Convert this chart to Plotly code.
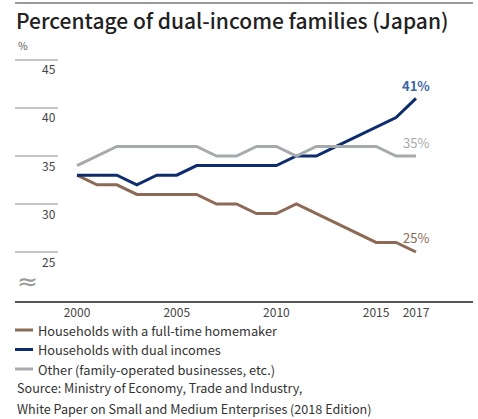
import plotly.graph_objects as go

# ---- data ----
years = list(range(2000, 2018))
homemaker = [33, 32, 32, 31, 31, 31, 31, 30, 30, 29, 29, 30, 29, 28, 27, 26, 26, 25]
dual = [33, 33, 33, 32, 33, 33, 34, 34, 34, 34, 34, 35, 35, 36, 37, 38, 39, 41]
other = [34, 35, 36, 36, 36, 36, 36, 35, 35, 36, 36, 35, 36, 36, 36, 36, 35, 35]
series_names = ["Households with a full-time homemaker",
                "Households with dual incomes",
                "Other (family-operated businesses, etc.)"]
end_labels = ["25%", "41%", "35%"]
x_ticks = [2000, 2005, 2010, 2015, 2017]
y_ticks = [25, 30, 35, 40, 45]
title_text = "Percentage of dual-income families (Japan)"
source_lines = ["Source: Ministry of Economy, Trade and Industry,",
                "White Paper on Small and Medium Enterprises (2018 Edition)"]

# ---- style ----
W, H = 478, 419
ML, MR, MT, MB = 15, 5, 55, 118
PW, PH = W - ML - MR, H - MT - MB
colors = ["#8c6a55", "#0e2d6e", "#a7aaad"]
label_colors = ["#8c6a55", "#3d67a6", "#a7aaad"]
FONT = "Noto Sans CJK JP"


def px_x(p):
    return (p - ML) / PW


def px_y(p):
    return (H - MB - p) / PH


fig = go.Figure()
for vals, name, col in zip([homemaker, dual, other], series_names, colors):
    fig.add_trace(go.Scatter(x=years, y=vals, name=name, mode="lines",
                             line=dict(color=col, width=3), showlegend=False,
                             hoverinfo="x+y+name"))

shapes = []
annotations = []

# top rule
shapes.append(dict(type="line", xref="paper", yref="paper", x0=0, x1=1,
                   y0=px_y(3), y1=px_y(3), line=dict(color="#7a7a7a", width=1.5)))

# short gridlines + labels below them
for t in y_ticks:
    shapes.append(dict(type="line", xref="paper", yref="y", x0=0, x1=px_x(58),
                       y0=t, y1=t, line=dict(color="#8a8a8a", width=1)))
    annotations.append(dict(x=px_x(58), y=t, xref="paper", yref="y", text=str(t),
                            showarrow=False, xanchor="right", yanchor="middle",
                            yshift=-9, font=dict(family=FONT, size=12, color="#444")))

# unit
annotations.append(dict(x=px_x(16), y=px_y(46), xref="paper", yref="paper", text="%",
                        showarrow=False, xanchor="left", yanchor="middle",
                        font=dict(family=FONT, size=10.5, color="#555")))

# axis break mark
annotations.append(dict(x=px_x(15), y=px_y(281), xref="paper", yref="paper", text="≈",
                        showarrow=False, xanchor="left", yanchor="middle",
                        font=dict(family="DejaVu Sans", size=25, color="#9a9a9a")))

# end labels
end_vals = [homemaker[-1], dual[-1], other[-1]]
for lab, v, col, shift, bold in zip(end_labels, end_vals, label_colors, [15, 13, 14], [False, True, False]):
    annotations.append(dict(x=years[-1], y=v, xref="x", yref="y",
                            text=f"<b>{lab}</b>" if bold else lab,
                            showarrow=False, xanchor="center", yanchor="middle", yshift=shift,
                            font=dict(family=FONT, size=13, color=col)))

# legend
for i, (name, col) in enumerate(zip(series_names, colors)):
    yy = px_y(330 + i * 19.5)
    shapes.append(dict(type="line", xref="paper", yref="paper", x0=px_x(15), x1=px_x(33),
                       y0=yy, y1=yy, line=dict(color=col, width=3)))
    annotations.append(dict(x=px_x(36), y=yy, xref="paper", yref="paper", text=name,
                            showarrow=False, xanchor="left", yanchor="middle",
                            font=dict(family=FONT, size=12.8, color="#333")))

for i, line in enumerate(source_lines):
    annotations.append(dict(x=px_x(15), y=px_y(388 + i * 20), xref="paper", yref="paper",
                            text=line, showarrow=False, xanchor="left", yanchor="middle",
                            font=dict(family=FONT, size=12.6, color="#333")))

fig.update_layout(
    width=W, height=H,
    margin=dict(l=ML, r=MR, t=MT, b=MB, pad=0),
    paper_bgcolor="white", plot_bgcolor="white",
    title=dict(text=title_text, x=16 / W, xanchor="left", y=1 - 22 / H, yanchor="middle",
               font=dict(family=FONT, size=21, color="#222", weight=500)),
    xaxis=dict(range=[1996.89, 2019.86], tickvals=x_ticks, ticktext=[str(v) for v in x_ticks],
               showgrid=False, zeroline=False, showline=True, linecolor="#555", linewidth=1.5,
               ticks="", tickfont=dict(family=FONT, size=12, color="#444"), fixedrange=True),
    yaxis=dict(range=[19.896, 45.52], showgrid=False, zeroline=False, showline=False,
               showticklabels=False, fixedrange=True),
    shapes=shapes, annotations=annotations,
)

fig.write_html("out.html")
